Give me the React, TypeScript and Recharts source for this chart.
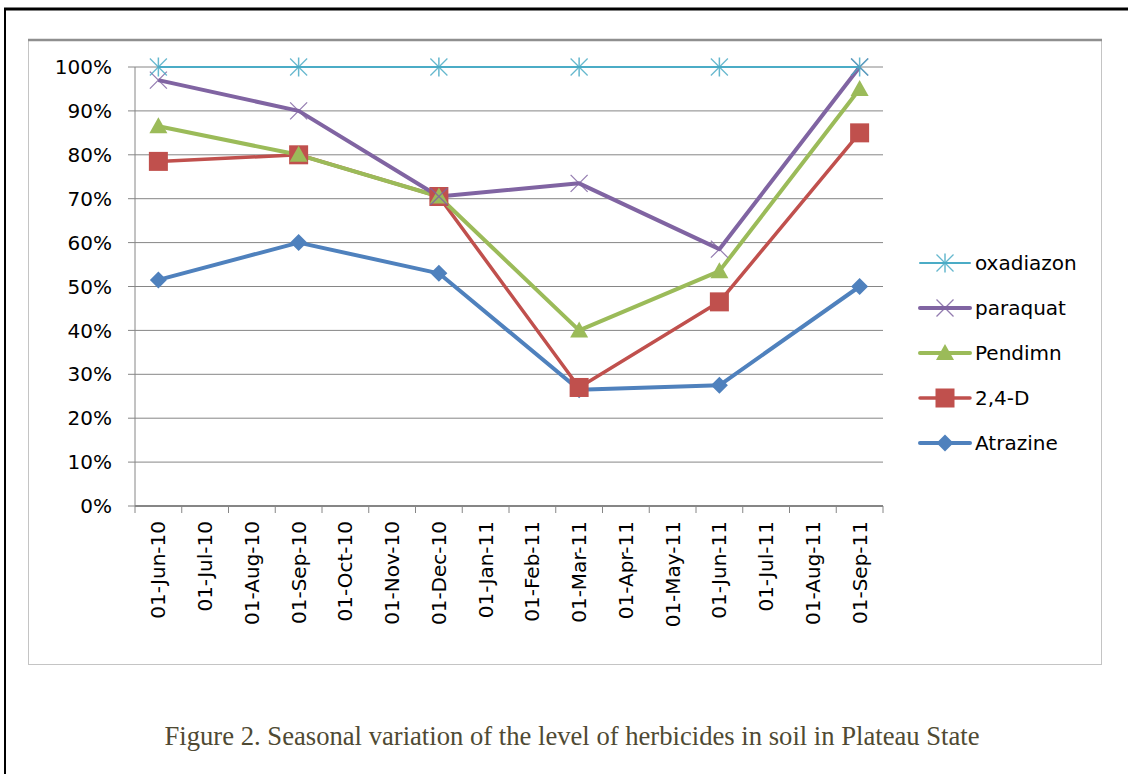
import React from "react";
import { LineChart, Line, XAxis, YAxis, CartesianGrid } from "recharts";

const months = [
  "01-Jun-10", "01-Jul-10", "01-Aug-10", "01-Sep-10", "01-Oct-10", "01-Nov-10",
  "01-Dec-10", "01-Jan-11", "01-Feb-11", "01-Mar-11", "01-Apr-11", "01-May-11",
  "01-Jun-11", "01-Jul-11", "01-Aug-11", "01-Sep-11",
];
const sampleDates = ["01-Jun-10", "01-Sep-10", "01-Dec-10", "01-Mar-11", "01-Jun-11", "01-Sep-11"];

const atrazine = [51.5, 60, 53, 26.5, 27.5, 50];
const d24 = [78.5, 80, 70.5, 27, 46.5, 85];
const pendimn = [86.5, 80, 70.5, 40, 53.5, 95];
const paraquat = [97, 90, 70.5, 73.5, 58.5, 100];
const oxadiazon = [100, 100, 100, 100, 100, 100];

const yTicks = [0, 10, 20, 30, 40, 50, 60, 70, 80, 90, 100];

// drawing order: first is painted at the bottom
const series = [
  { key: "atrazine", name: "Atrazine", values: atrazine, color: "#4F81BD", width: 4, marker: "diamond" },
  { key: "d24", name: "2,4-D", values: d24, color: "#C0504D", width: 3.5, marker: "square" },
  { key: "pendimn", name: "Pendimn", values: pendimn, color: "#9BBB59", width: 4, marker: "triangle" },
  { key: "paraquat", name: "paraquat", values: paraquat, color: "#8064A2", width: 4, marker: "x" },
  { key: "oxadiazon", name: "oxadiazon", values: oxadiazon, color: "#4BACC6", width: 2, marker: "star" },
];

const data = months.map((m) => {
  const i = sampleDates.indexOf(m);
  const row: Record<string, any> = { month: m };
  series.forEach((s) => {
    row[s.key] = i >= 0 ? s.values[i] : null;
  });
  return row;
});

const FONT = "DejaVu Sans";
const PLOT_LEFT = 135;
const PLOT_RIGHT = 883;
const PLOT_TOP = 67;
const AXIS_Y = 506;
const AXIS_COLOR = "#868686";

function Marker({ kind, cx, cy, color }: { kind: string; cx: number; cy: number; color: string }) {
  if (kind === "square") {
    return <rect x={cx - 9.5} y={cy - 9.5} width={19} height={19} fill={color} />;
  }
  if (kind === "diamond") {
    const r = 8.5;
    return <polygon points={`${cx},${cy - r} ${cx + r},${cy} ${cx},${cy + r} ${cx - r},${cy}`} fill={color} />;
  }
  if (kind === "triangle") {
    return <polygon points={`${cx},${cy - 9} ${cx + 9},${cy + 7} ${cx - 9},${cy + 7}`} fill={color} />;
  }
  const r = 8.5;
  return (
    <g stroke={color} strokeWidth={1.2} opacity={0.85}>
      <line x1={cx - r} y1={cy - r} x2={cx + r} y2={cy + r} />
      <line x1={cx - r} y1={cy + r} x2={cx + r} y2={cy - r} />
      {kind === "star" && <line x1={cx} y1={cy - r - 1} x2={cx} y2={cy + r + 1} strokeWidth={1.5} />}
    </g>
  );
}

const XTick = (props: any) => {
  const { x, payload, index } = props;
  const bw = (PLOT_RIGHT - PLOT_LEFT) / months.length;
  return (
    <g>
      <line x1={x - bw / 2} x2={x - bw / 2} y1={AXIS_Y} y2={AXIS_Y + 7} stroke={AXIS_COLOR} />
      {index === months.length - 1 && (
        <line x1={x + bw / 2} x2={x + bw / 2} y1={AXIS_Y} y2={AXIS_Y + 7} stroke={AXIS_COLOR} />
      )}
      <text
        transform={`translate(${x + 7},${AXIS_Y + 15}) rotate(-90)`}
        textAnchor="end"
        fontSize={20}
        fontFamily={FONT}
        fill="#000"
      >
        {payload.value}
      </text>
    </g>
  );
};

export default function App() {
  const legendItems = [...series].reverse();
  return (
    <div style={{ position: "absolute", left: 0, top: 0, width: 1128, height: 774, background: "#fff" }}>
      <svg width={1128} height={774} style={{ position: "absolute", left: 0, top: 0 }}>
        <line x1={4} y1={9} x2={1128} y2={9} stroke="#000" strokeWidth={3} />
        <line x1={5} y1={8} x2={5} y2={774} stroke="#000" strokeWidth={2} />
        <rect x={28.5} y={40.5} width={1073} height={624} fill="none" stroke="#c4c4c4" strokeWidth={1} />
        <line x1={28} y1={40} x2={1102} y2={40} stroke="#8f8f8f" strokeWidth={2.5} />
        {legendItems.map((s, i) => {
          const y = 263 + i * 45;
          return (
            <g key={s.key}>
              <line x1={920} x2={970} y1={y} y2={y} stroke={s.color} strokeWidth={s.width} strokeLinecap="round" />
              <Marker kind={s.marker} cx={945} cy={y} color={s.color} />
              <text x={975} y={y} dominantBaseline="central" fontSize={20} fontFamily={FONT} fill="#000">
                {s.name}
              </text>
            </g>
          );
        })}
        <text
          x={572}
          y={745}
          textAnchor="middle"
          textLength={815}
          lengthAdjust="spacingAndGlyphs"
          fontSize={28}
          fontFamily="Liberation Serif"
          fill="#4f4a33"
        >
          Figure 2. Seasonal variation of the level of herbicides in soil in Plateau State
        </text>
      </svg>
      <div style={{ position: "absolute", left: 0, top: 0 }}>
        <LineChart
          width={1128}
          height={774}
          data={data}
          margin={{ top: PLOT_TOP, right: 1128 - PLOT_RIGHT, left: 0, bottom: 774 - AXIS_Y - 120 }}
        >
          <CartesianGrid horizontal vertical={false} stroke={AXIS_COLOR} strokeWidth={1} />
          <XAxis
            dataKey="month"
            scale="band"
            interval={0}
            height={120}
            tickLine={false}
            axisLine={{ stroke: AXIS_COLOR, strokeWidth: 2 }}
            tick={<XTick />}
          />
          <YAxis
            width={PLOT_LEFT}
            domain={[0, 100]}
            ticks={yTicks}
            tickFormatter={(v) => `${v}%`}
            tickSize={7}
            tickMargin={16}
            axisLine={{ stroke: AXIS_COLOR }}
            tickLine={{ stroke: AXIS_COLOR }}
            tick={{ fontSize: 20, fontFamily: FONT, fill: "#000" }}
          />
          {series.map((s) => (
            <Line
              key={s.key}
              dataKey={s.key}
              name={s.name}
              stroke={s.color}
              strokeWidth={s.width}
              strokeLinejoin="round"
              connectNulls
              isAnimationActive={false}
              dot={(p: any) =>
                p.cx == null || p.cy == null || p.value == null ? (
                  <g key={`${s.key}-${p.index}`} />
                ) : (
                  <Marker key={`${s.key}-${p.index}`} kind={s.marker} cx={p.cx} cy={p.cy} color={s.color} />
                )
              }
              activeDot={false}
            />
          ))}
        </LineChart>
      </div>
    </div>
  );
}
